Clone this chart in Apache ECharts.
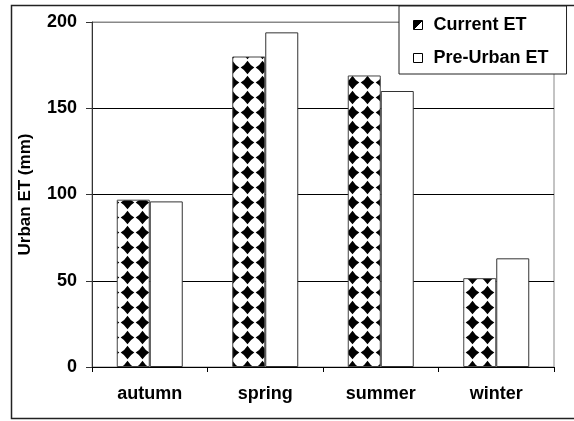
<!DOCTYPE html>
<html>
<head>
<meta charset="utf-8">
<script src="https://cdn.jsdelivr.net/npm/echarts@6/dist/echarts.min.js"></script>
<style>
  html, body { margin: 0; padding: 0; background: #fff; }
  #chart { width: 574px; height: 421px; }
</style>
</head>
<body>
<div id="chart"></div>
<script>
// seasons on the x axis
const seasons = ['autumn', 'spring', 'summer', 'winter']
// urban ET, mm
const currentET = [97, 180, 169, 51.5]
const preUrbanET = [96, 194, 160, 63]
const yTicks = [0, 50, 100, 150, 200]

const FONT = 'Liberation Sans'

// diamond fill used by the "Current ET" bars
function makeDiamondTile() {
  const s = 15
  const c = document.createElement('canvas')
  c.width = s
  c.height = s
  const ctx = c.getContext('2d')
  ctx.fillStyle = '#fff'
  ctx.fillRect(0, 0, s, s)
  const m = s / 2
  const r = 6.8
  const k = 2.6
  ctx.fillStyle = '#000'
  ctx.beginPath()
  ctx.moveTo(m, m - r)
  ctx.quadraticCurveTo(m + k, m - k, m + r, m)
  ctx.quadraticCurveTo(m + k, m + k, m, m + r)
  ctx.quadraticCurveTo(m - k, m + k, m - r, m)
  ctx.quadraticCurveTo(m - k, m - k, m, m - r)
  ctx.fill()
  return c
}

const chart = echarts.init(document.getElementById('chart'))

chart.setOption({
  animation: false,
  graphic: [
    {
      type: 'rect',
      z: -10,
      shape: { x: 11.5, y: 5.5, width: 580, height: 413 },
      style: { fill: 'none', stroke: '#222', lineWidth: 1.5 }
    }
  ],
  legend: {
    orient: 'vertical',
    left: 399,
    top: 6,
    padding: [9, 18, 6, 14],
    itemGap: 13,
    itemWidth: 9,
    itemHeight: 9,
    backgroundColor: '#fff',
    borderColor: '#222',
    borderWidth: 1,
    textStyle: {
      fontFamily: FONT,
      fontWeight: 'bold',
      fontSize: 18,
      color: '#000',
      lineHeight: 20,
      padding: [0, 0, 0, 6]
    },
    data: [
      {
        name: 'Current ET',
        icon: 'rect',
        itemStyle: {
          color: new echarts.graphic.LinearGradient(0, 0, 1, 1, [
            { offset: 0, color: '#000' },
            { offset: 0.5, color: '#000' },
            { offset: 0.5, color: '#fff' },
            { offset: 1, color: '#fff' }
          ]),
          borderColor: '#000',
          borderWidth: 1
        }
      },
      {
        name: 'Pre-Urban ET',
        icon: 'rect',
        itemStyle: { color: '#fff', borderColor: '#000', borderWidth: 1 }
      }
    ]
  },
  grid: {
    left: 92,
    right: 20,
    top: 22,
    bottom: 54,
    show: true,
    borderColor: '#888',
    borderWidth: 1
  },
  xAxis: {
    type: 'category',
    data: seasons,
    axisLine: { lineStyle: { color: '#000', width: 1 } },
    axisTick: { show: true, length: 5, lineStyle: { color: '#000' } },
    axisLabel: {
      margin: 18,
      fontFamily: FONT,
      fontWeight: 'bold',
      fontSize: 18,
      color: '#000'
    }
  },
  yAxis: {
    type: 'value',
    min: yTicks[0],
    max: yTicks[yTicks.length - 1],
    interval: 50,
    name: 'Urban ET (mm)',
    nameLocation: 'middle',
    nameGap: 58,
    nameTextStyle: {
      fontFamily: FONT,
      fontWeight: 'bold',
      fontSize: 17,
      color: '#000'
    },
    axisLine: { show: true, lineStyle: { color: '#333', width: 1 } },
    axisTick: { show: true, length: 6, lineStyle: { color: '#333' } },
    axisLabel: {
      margin: 15,
      fontFamily: FONT,
      fontWeight: 'bold',
      fontSize: 18,
      color: '#000'
    },
    splitLine: {
      lineStyle: { color: ['#000', '#000', '#000', '#000', '#888'], width: 1 }
    }
  },
  series: [
    {
      name: 'Current ET',
      type: 'bar',
      data: currentET,
      barWidth: 33,
      barGap: '0%',
      itemStyle: {
        color: { image: makeDiamondTile(), repeat: 'repeat' },
        borderColor: '#444',
        borderWidth: 1
      }
    },
    {
      name: 'Pre-Urban ET',
      type: 'bar',
      data: preUrbanET,
      barWidth: 33,
      barGap: '0%',
      itemStyle: {
        color: '#fff',
        borderColor: '#333',
        borderWidth: 1
      }
    }
  ]
})
</script>
</body>
</html>
